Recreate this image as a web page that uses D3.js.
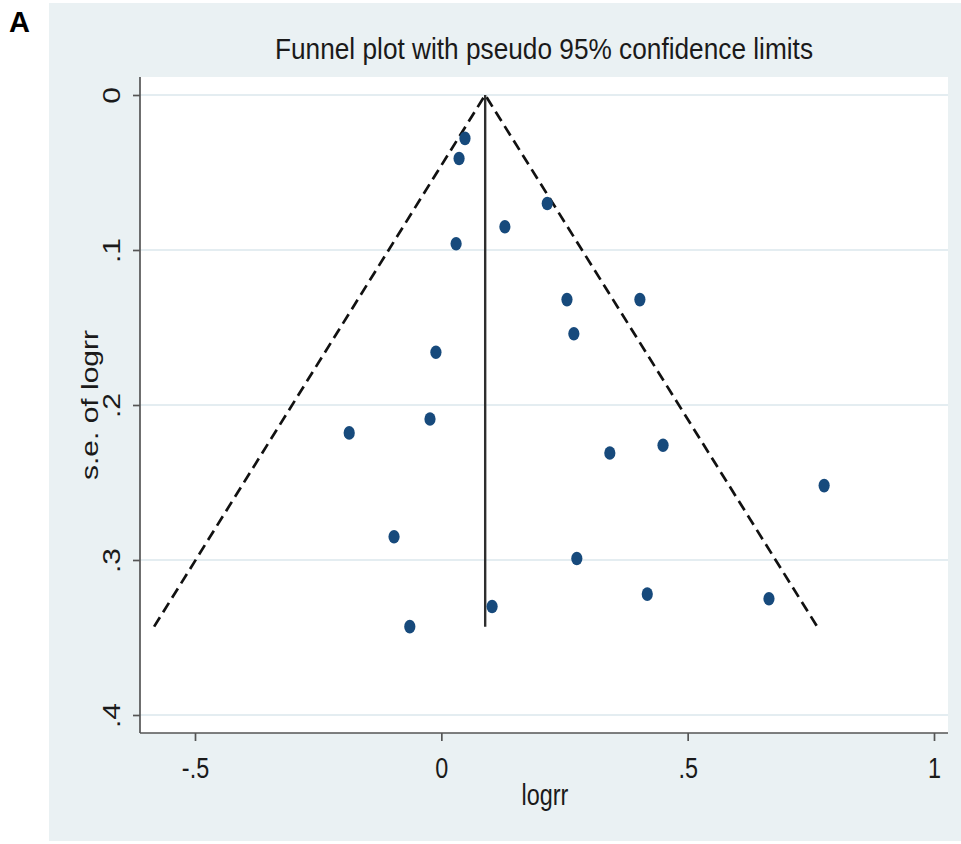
<!DOCTYPE html>
<html>
<head>
<meta charset="utf-8">
<script src="https://cdn.jsdelivr.net/npm/d3@7"></script>
<style>
  body { margin: 0; background: #fff; }
  svg { display: block; font-family: "Liberation Sans", Arial, sans-serif; }
</style>
</head>
<body>
<svg width="961" height="844"></svg>
<script>
// study estimates
var logrr = [0.048, 0.036, 0.215, 0.129, 0.030, 0.255, 0.403, 0.269, -0.011, -0.187,
             -0.023, 0.450, 0.342, 0.777, -0.096, 0.275, 0.418, 0.665, 0.103, -0.064];
var seLogrr = [0.028, 0.041, 0.070, 0.085, 0.096, 0.132, 0.132, 0.154, 0.166, 0.218,
               0.209, 0.226, 0.231, 0.252, 0.285, 0.299, 0.322, 0.325, 0.330, 0.343];

// pseudo 95% limits and pooled estimate
var funnelX = [-0.583, 0.089, 0.763];
var funnelSe = [0.343, 0, 0.343];
var pooled = 0.089;
var pooledSe = [0, 0.343];

var xTicks = [-0.5, 0, 0.5, 1];
var yTicks = [0, 0.1, 0.2, 0.3, 0.4];

var svg = d3.select("svg");
var fs = 30, squash = 0.78;

// outer (stata style) background
svg.append("rect").attr("x", 49).attr("y", 3).attr("width", 912).attr("height", 838)
  .attr("fill", "#eaf1f3");

var plot = {left: 140, right: 948, top: 77, bottom: 733};
svg.append("rect").attr("x", plot.left).attr("y", plot.top)
  .attr("width", plot.right - plot.left).attr("height", plot.bottom - plot.top)
  .attr("fill", "#fff");

var x = d3.scaleLinear().domain([-0.5, 1]).range([195, 934]);
var y = d3.scaleLinear().domain([0, 0.4]).range([95, 715]);

function fmt(d) {
  if (d === 0) return "0";
  return String(d).replace("0.", ".");
}

// grid
svg.append("g").selectAll("line").data(yTicks).join("line")
  .attr("x1", plot.left).attr("x2", plot.right)
  .attr("y1", function(d) { return y(d); }).attr("y2", function(d) { return y(d); })
  .attr("stroke", "#e4edf1").attr("stroke-width", 2);

// axes
var gx = svg.append("g").attr("transform", "translate(0," + plot.bottom + ")")
  .call(d3.axisBottom(x).tickValues(xTicks).tickFormat(fmt).tickSize(8).tickSizeOuter(0));
gx.select(".domain").attr("d", "M" + plot.left + ",0H" + plot.right);
gx.selectAll("text").attr("y", 45).attr("dy", null)
  .attr("transform", "scale(" + squash + ",1)");

var gy = svg.append("g").attr("transform", "translate(" + plot.left + ",0)")
  .call(d3.axisLeft(y).tickValues(yTicks).tickFormat(fmt).tickSize(7).tickSizeOuter(0));
gy.select(".domain").attr("d", "M0," + plot.top + "V" + plot.bottom);
gy.selectAll("text").attr("x", 0).attr("dy", null).attr("text-anchor", "middle")
  .attr("transform", "translate(-20,0) rotate(-90) scale(1," + squash + ")");

[gx, gy].forEach(function(g) {
  g.selectAll(".domain, line").attr("stroke", "#555").attr("stroke-width", 1.7);
  g.selectAll("text").attr("font-size", fs).attr("fill", "#1a1a1a")
    .attr("font-family", "'Liberation Sans', Arial, sans-serif");
});

// funnel limits
var line = d3.line()
  .x(function(d) { return x(d[0]); })
  .y(function(d) { return y(d[1]); });

svg.append("path")
  .datum(d3.zip(funnelX, funnelSe))
  .attr("d", line)
  .attr("fill", "none").attr("stroke", "#111").attr("stroke-width", 2.7)
  .attr("stroke-dasharray", "11,6");

svg.append("path")
  .datum(pooledSe.map(function(s) { return [pooled, s]; }))
  .attr("d", line)
  .attr("fill", "none").attr("stroke", "#2e2e2e").attr("stroke-width", 2.4);

// studies
svg.append("g").selectAll("ellipse").data(d3.zip(logrr, seLogrr)).join("ellipse")
  .attr("cx", function(d) { return x(d[0]); })
  .attr("cy", function(d) { return y(d[1]); })
  .attr("rx", 5.6).attr("ry", 6.8)
  .attr("fill", "#174a7c");

// titles
svg.append("text").attr("x", 544).attr("y", 59).attr("text-anchor", "middle")
  .attr("font-size", fs).attr("fill", "#1a1a1a")
  .attr("textLength", 538).attr("lengthAdjust", "spacingAndGlyphs")
  .text("Funnel plot with pseudo 95% confidence limits");

svg.append("text").attr("text-anchor", "middle").attr("font-size", fs).attr("fill", "#1a1a1a")
  .attr("transform", "translate(545,805) scale(" + squash + ",1)")
  .text("logrr");

svg.append("text").attr("text-anchor", "middle").attr("font-size", fs).attr("fill", "#1a1a1a")
  .attr("transform", "translate(98,405) rotate(-90) scale(1," + squash + ")")
  .text("s.e. of logrr");

svg.append("text").attr("x", 9).attr("y", 32)
  .attr("font-size", 29).attr("font-weight", "bold").attr("fill", "#000")
  .text("A");
</script>
</body>
</html>
